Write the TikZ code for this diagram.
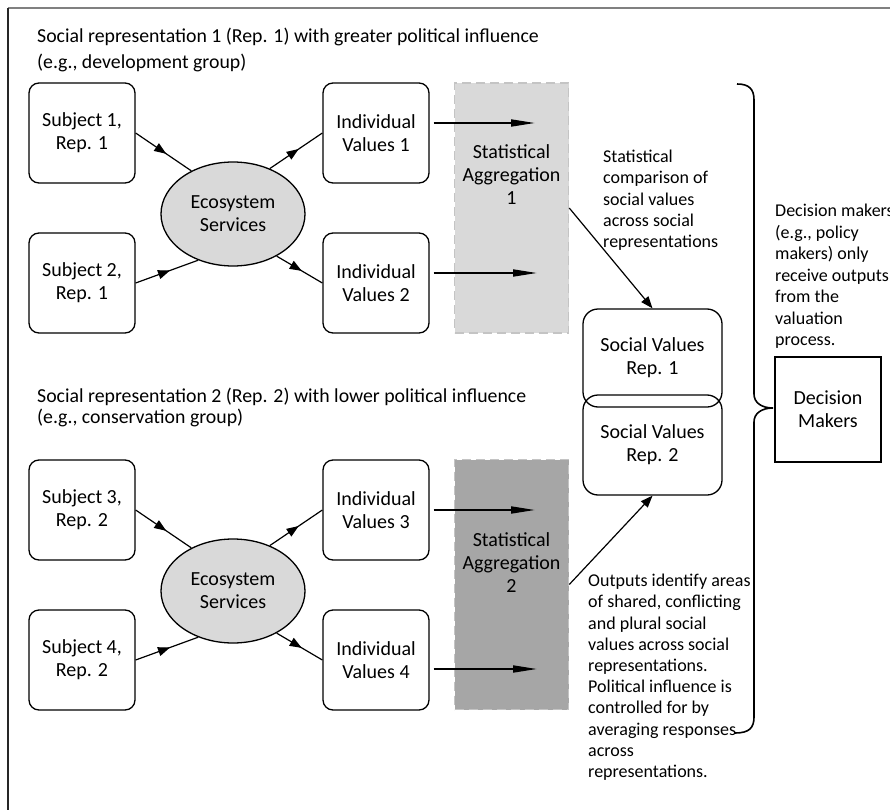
\documentclass[tikz,border=0pt]{standalone}
\usepackage{fontspec}
\setmainfont{Carlito}
\usetikzlibrary{arrows.meta,decorations.markings,shapes.geometric}

\definecolor{ecofill}{HTML}{D9D9D9}
\definecolor{aggone}{HTML}{D9D9D9}
\definecolor{aggtwo}{HTML}{A6A6A6}
\definecolor{aggedge}{HTML}{C4C4C4}
\definecolor{framegray}{HTML}{808080}

\newcommand\dgboxfont{\fontsize{20}{23}\selectfont}
\newcommand\dgnotefont{\fontsize{18}{21.2}\selectfont}

\tikzset{
  box/.style={draw, line width=1.3pt, rounded corners=10pt, minimum width=106pt,
    minimum height=100pt, align=center, inner sep=0pt, font=\dgboxfont},
  eco/.style={ellipse, draw, fill=ecofill, line width=1.3pt, minimum width=144pt,
    minimum height=104pt, inner sep=0pt, align=center, font=\dgboxfont},
  agg/.style={draw=aggedge, dash pattern=on 9pt off 5pt, line width=1.5pt,
    minimum width=114pt, minimum height=250pt, inner sep=0pt},
  aggtext/.style={align=center, inner sep=0pt, font=\dgboxfont},
  valbox/.style={draw, line width=1.3pt, rounded corners=15pt, minimum width=139pt,
    inner sep=0pt, align=center, font=\dgboxfont},
  dmbox/.style={draw, line width=1.3pt, minimum width=106pt, minimum height=105pt,
    inner sep=0pt, align=center, font=\dgboxfont},
  note/.style={anchor=north west, align=left, inner sep=0pt, font=\dgnotefont},
  midarrow/.style={line width=1.2pt, postaction={decorate},
    decoration={markings, mark=at position 0.55 with {\arrow{Triangle[length=12pt,width=9pt]}}}},
  feed/.style={-{Triangle[length=24pt,width=7pt]}, line width=1.8pt},
  link/.style={-{Triangle[length=12pt,width=9pt]}, line width=1.2pt},
}

\begin{document}
\begin{tikzpicture}[x=1pt,y=-1pt]
\useasboundingbox (0,0) rectangle (890,810);

% frame
\draw[framegray, line width=1.5pt] (8,8) -- (890,8);
\draw[black!85, line width=1.5pt] (8,8) -- (8,810);

% group titles
\node[note, font=\fontsize{19.8}{26}\selectfont] (t1) at (37,28)
  {Social representation 1 (Rep. 1) with greater political influence\\(e.g., development group)};
\node[note, font=\fontsize{19.8}{21}\selectfont] (t2) at (37,388)
  {Social representation 2 (Rep. 2) with lower political influence\\(e.g., conservation group)};

% representation 1
\node[box] (s1) at (82,133) {Subject 1,\\Rep. 1};
\node[box] (s2) at (82,283) {Subject 2,\\Rep. 1};
\node[eco] (e1) at (233,214) {Ecosystem\\Services};
\node[box] (v1) at (376,133) {Individual\\Values 1};
\node[box] (v2) at (376,283) {Individual\\Values 2};
\node[agg, fill=aggone] (a1) at (511.5,208) {};
\node[aggtext] (a1t) at ([yshift=33pt]a1.center) {Statistical\\Aggregation\\1};

% representation 2
\node[box] (s3) at (82,510) {Subject 3,\\Rep. 2};
\node[box] (s4) at (82,660) {Subject 4,\\Rep. 2};
\node[eco] (e2) at (233,591) {Ecosystem\\Services};
\node[box] (v3) at (376,510) {Individual\\Values 3};
\node[box] (v4) at (376,660) {Individual\\Values 4};
\node[agg, fill=aggtwo] (a2) at (511.5,584.5) {};
\node[aggtext] (a2t) at ([yshift=22pt]a2.center) {Statistical\\Aggregation\\2};

% social values and decision makers
\node[valbox, minimum height=98pt] (sv1) at (652.5,358) {Social Values\\Rep. 1};
\node[valbox, minimum height=100pt] (sv2) at (652.5,445) {Social Values\\Rep. 2};
\node[dmbox] (dm) at (828,409.5) {Decision\\Makers};

% free ends of the feeds inside the aggregation boxes
\coordinate (h1) at (535,123);
\coordinate (h2) at (537,273);
\coordinate (h3) at (535,510);
\coordinate (h4) at (537,669);

% subjects -> ecosystem services -> individual values
\draw[midarrow] (s1.east) -- (e1.134);
\draw[midarrow] (s2.east) -- (e1.233);
\draw[midarrow] (e1.51) -- (v1.west);
\draw[midarrow] (e1.316) -- (v2.west);
\draw[midarrow] (s3.east) -- (e2.134);
\draw[midarrow] (s4.east) -- (e2.233);
\draw[midarrow] (e2.51) -- (v3.west);
\draw[midarrow] (e2.316) -- (v4.west);

% individual values -> aggregation
\draw[feed] ([shift={(4pt,10pt)}]v1.east) -- (h1);
\draw[feed] ([shift={(4pt,10pt)}]v2.east) -- (h2);
\draw[feed] ([shift={(4pt,0pt)}]v3.east) -- (h3);
\draw[feed] ([shift={(4pt,-9pt)}]v4.east) -- (h4);

% aggregation -> social values
\draw[link] (a1.east) -- (sv1.north);
\draw[link] (a2.east) -- (sv2.south);

% brace towards the decision makers
\draw[line width=1.6pt]
  (737,84) .. controls (749,84) and (754,89) .. (754,100)
  -- (754,394) .. controls (754,403) and (762,408) .. (773,408)
  .. controls (762,408) and (754,413) .. (754,422)
  -- (754,717) .. controls (754,728) and (749,733) .. (735,733);

% notes
\node[note] (n1) at (603,150)
  {Statistical\\comparison of\\social values\\across social\\representations};
\node[note, font=\fontsize{18}{21.5}\selectfont] (n2) at (775,204)
  {Decision makers\\(e.g., policy\\makers) only\\receive outputs\\from the\\valuation\\process.};
\node[note] (n3) at (588,574)
  {Outputs identify areas\\of shared, conflicting\\and plural social\\values across social\\representations.\\Political influence is\\controlled for by\\averaging responses\\across\\representations.};
\end{tikzpicture}
\end{document}
